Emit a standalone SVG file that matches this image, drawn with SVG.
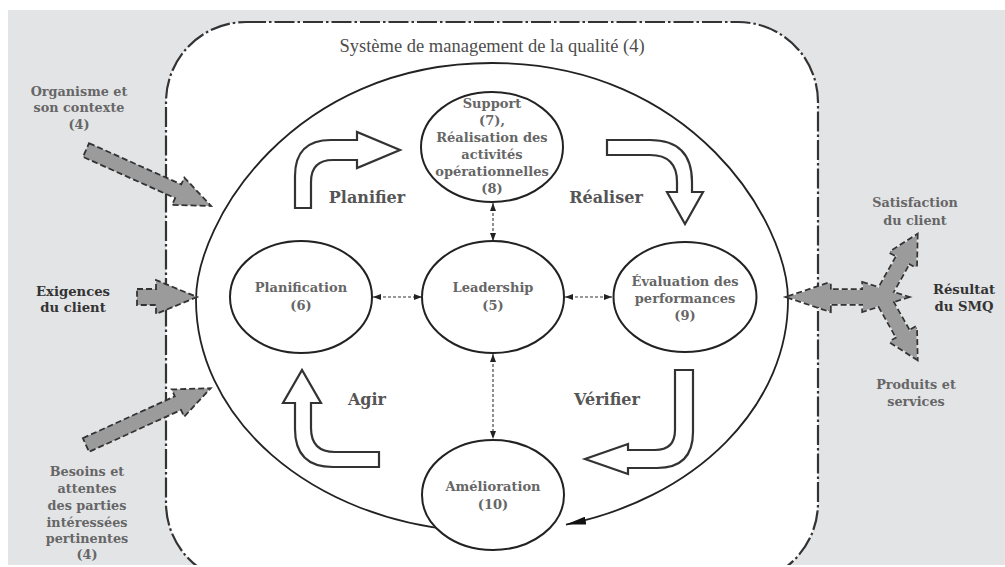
<svg xmlns="http://www.w3.org/2000/svg" width="1005" height="567" viewBox="0 0 1005 567">
<defs>
<style>
.bg{fill:#e3e4e6}
.frame{fill:#fff;stroke:#333;stroke-width:2.2;stroke-dasharray:20 3 2.5 3}
.cycle{fill:none;stroke:#222;stroke-width:1.8}
.node{fill:#fff;stroke:#222;stroke-width:2}
.blk{fill:#fff;stroke:#333;stroke-width:2.2;stroke-linejoin:miter}
.gray{fill:#9b9b9b;stroke:#333;stroke-width:1.8;stroke-dasharray:6 3}
.gstroke{fill:none;stroke:#333;stroke-width:3.4;stroke-dasharray:6 3}
.gfill{fill:#9b9b9b;stroke:none}
.link{fill:none;stroke:#333;stroke-width:1.1;stroke-dasharray:3 2}
text{font-family:"DejaVu Serif","Liberation Serif",serif;text-anchor:middle}
.nt{font-size:13px;font-weight:bold;fill:#666}
.lbl{font-size:16px;font-weight:bold;fill:#555}
.side{font-size:12.8px;font-weight:bold;fill:#666}
.sideb{font-size:13.2px;font-weight:bold;fill:#333}
.title{font-family:"Liberation Serif",serif;font-size:18.5px;fill:#4d4d4d}
</style>
<marker id="sm" viewBox="0 0 8 6" refX="8" refY="3" markerWidth="8" markerHeight="6" markerUnits="userSpaceOnUse" orient="auto-start-reverse">
<path d="M0,0 L8,3 L0,6 Z" fill="#222"/>
</marker>
<marker id="big" viewBox="0 0 20 8" refX="20" refY="4" markerWidth="20" markerHeight="8" markerUnits="userSpaceOnUse" orient="auto">
<path d="M0,0 L20,4 L0,8 Z" fill="#111"/>
</marker>
<g id="resShapes">
<polygon points="788,297 830,283 830,290 863,290 863,283 907,297 863,311 863,304 830,304 830,311"/>
<polygon points="0,-7 43,-7 43,-15 71,0 43,15 43,7 0,7" transform="translate(882,297) rotate(-60.6)"/>
<polygon points="0,-7 43,-7 43,-15 71,0 43,15 43,7 0,7" transform="translate(882,297) rotate(60.6)"/>
</g>
</defs>

<rect x="0" y="0" width="1005" height="567" fill="#fff"/>
<rect class="bg" x="8" y="10" width="997" height="555"/>

<g id="frame">
<rect class="frame" x="166" y="22" width="652" height="561" rx="80" ry="80"/>
<text class="title" x="492" y="52">Système de management de la qualité (4)</text>
</g>

<g id="connectors">
<path id="cycle" class="cycle" d="M 460 530.6 A 296 232 0 0 1 196 300 C 196 222 292 63 492 63 C 692 63 788 222 788 300 A 296 232 0 0 1 566 524.6" marker-end="url(#big)"/>
<line class="link" x1="493" y1="203" x2="493" y2="241" marker-start="url(#sm)" marker-end="url(#sm)"/>
<line class="link" x1="373" y1="297" x2="422" y2="297" marker-start="url(#sm)" marker-end="url(#sm)"/>
<line class="link" x1="565" y1="297" x2="612" y2="297" marker-start="url(#sm)" marker-end="url(#sm)"/>
<line class="link" x1="493" y1="354" x2="493" y2="439" marker-start="url(#sm)" marker-end="url(#sm)"/>
</g>

<g id="pdca-arrows">
<path id="arrow-planifier" class="blk" d="M 295 208 L 295 176 Q 295 140 331 140 L 357 140 L 357 132 L 400 150 L 357 168 L 357 160 L 333 160 Q 311 160 311 182 L 311 208 Z"/>
<path id="arrow-realiser" class="blk" d="M 607 140 L 650 140 Q 692 140 692 182 L 692 192 L 703 192 L 685 224 L 667 192 L 677 192 L 677 182 Q 677 155 650 155 L 607 155 Z"/>
<path id="arrow-verifier" class="blk" d="M 675 370 L 693 370 L 693 432 Q 693 468 657 468 L 628 468 L 628 474 L 585 459 L 628 444 L 628 450 L 655 450 Q 675 450 675 430 Z"/>
<path id="arrow-agir" class="blk" d="M 295 403 L 283 403 L 302 370 L 321 403 L 311 403 L 311 428 Q 311 452 335 452 L 379 452 L 379 467 L 333 467 Q 295 467 295 429 Z"/>
<text class="lbl" x="367" y="203">Planifier</text>
<text class="lbl" x="606" y="203">Réaliser</text>
<text class="lbl" x="367" y="405">Agir</text>
<text class="lbl" x="607" y="405">Vérifier</text>
</g>

<g id="node-support">
<ellipse class="node" cx="492" cy="147" rx="71" ry="55"/>
<text class="nt" x="492" y="108">Support</text>
<text class="nt" x="492" y="125">(7),</text>
<text class="nt" x="492" y="142">Réalisation des</text>
<text class="nt" x="492" y="159">activités</text>
<text class="nt" x="492" y="176">opérationnelles</text>
<text class="nt" x="492" y="193">(8)</text>
</g>

<g id="node-planification">
<ellipse class="node" cx="301" cy="297" rx="71" ry="56"/>
<text class="nt" x="301" y="292">Planification</text>
<text class="nt" x="301" y="310">(6)</text>
</g>

<g id="node-leadership">
<ellipse class="node" cx="493" cy="297" rx="71" ry="56"/>
<text class="nt" x="493" y="292">Leadership</text>
<text class="nt" x="493" y="310">(5)</text>
</g>

<g id="node-evaluation">
<ellipse class="node" cx="685" cy="297" rx="71.5" ry="55"/>
<text class="nt" x="685" y="286">Évaluation des</text>
<text class="nt" x="685" y="303">performances</text>
<text class="nt" x="685" y="320">(9)</text>
</g>

<g id="node-amelioration">
<ellipse class="node" cx="493" cy="495" rx="71" ry="55"/>
<text class="nt" x="493" y="491">Amélioration</text>
<text class="nt" x="493" y="509">(10)</text>
</g>

<g id="input-organisme">
<polygon class="gray" points="0,-7.5 101,-7.5 101,-15 137,0 101,15 101,7.5 0,7.5" transform="translate(86,150) rotate(24.1)"/>
<text class="side" x="79" y="96">Organisme et</text>
<text class="side" x="79" y="112">son contexte</text>
<text class="side" x="79" y="129">(4)</text>
</g>

<g id="input-exigences">
<polygon class="gray" points="137,289 156,289 156,280 197,297 156,314 156,305 137,305"/>
<text class="sideb" x="73" y="296">Exigences</text>
<text class="sideb" x="73" y="312">du client</text>
</g>

<g id="input-besoins">
<polygon class="gray" points="0,-7.5 101,-7.5 101,-15 137,0 101,15 101,7.5 0,7.5" transform="translate(86,445) rotate(-24.5)"/>
<text class="side" x="87" y="476">Besoins et</text>
<text class="side" x="87" y="493">attentes</text>
<text class="side" x="87" y="510">des parties</text>
<text class="side" x="87" y="527">intéressées</text>
<text class="side" x="87" y="543">pertinentes</text>
<text class="side" x="87" y="559">(4)</text>
</g>

<g id="output-resultat">
<use href="#resShapes" class="gstroke"/>
<use href="#resShapes" class="gfill"/>
<text class="side" x="915" y="207">Satisfaction</text>
<text class="side" x="915" y="225">du client</text>
<text class="sideb" x="964" y="294">Résultat</text>
<text class="sideb" x="964" y="311">du SMQ</text>
<text class="side" x="916" y="389">Produits et</text>
<text class="side" x="916" y="406">services</text>
</g>

<rect x="0" y="565" width="1005" height="2" fill="#fff"/>
</svg>
